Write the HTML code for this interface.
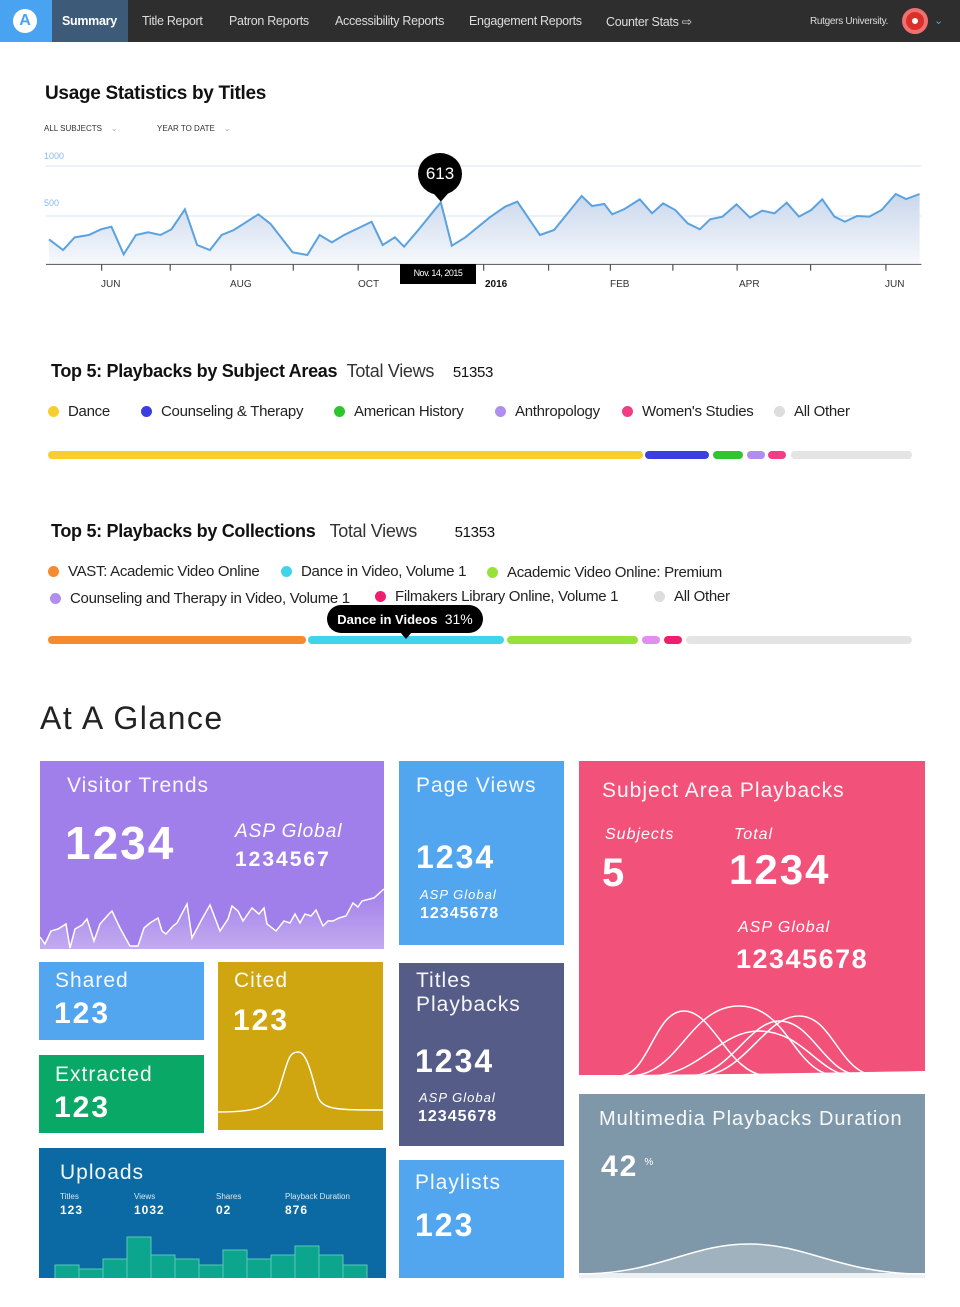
<!DOCTYPE html>
<html><head><meta charset="utf-8"><style>
*{margin:0;padding:0;box-sizing:border-box}
body{width:960px;height:1307px;background:#fff;font-family:"Liberation Sans",sans-serif;position:relative;overflow:hidden;color:#111}
.a{position:absolute;white-space:nowrap}
.nav{position:absolute;left:0;top:0;width:960px;height:42px;background:#2e2e2e}
.nav span{position:absolute;top:14px;font-size:12.5px;color:#ddd;letter-spacing:-.3px}
.dot{display:inline-block;width:11px;height:11px;border-radius:50%;margin-right:9px;vertical-align:-1px}
.leg{font-size:15px;color:#222;letter-spacing:-.3px}
.seg{position:absolute;height:8px;border-radius:4px}
.tile{position:absolute;color:#fff;overflow:hidden}
.tile .t{position:absolute;font-size:21px;font-weight:300;letter-spacing:1px;opacity:.95}
.big{position:absolute;font-weight:bold;letter-spacing:2px}
.it{position:absolute;font-style:italic;font-size:16px;letter-spacing:1px}
.tk{position:absolute;top:279px;font-size:10px;color:#333}
</style></head><body>
<div class="nav">
<div class="a" style="left:0;top:0;width:52px;height:42px;background:#4aa3f0"></div>
<div class="a" style="left:13px;top:9px;width:24px;height:24px;border-radius:50%;background:#fff;color:#4aa3f0;font-weight:bold;font-size:16px;text-align:center;line-height:24px">A</div>
<div class="a" style="left:52px;top:0;width:76px;height:42px;background:#3d5a78"></div>
<span style="left:62px;color:#fff;font-weight:bold">Summary</span>
<span style="left:142px">Title Report</span>
<span style="left:229px">Patron Reports</span>
<span style="left:335px">Accessibility Reports</span>
<span style="left:469px">Engagement Reports</span>
<span style="left:606px">Counter Stats ⇨</span>
<span style="left:810px;font-size:10px;top:16px">Rutgers University.</span>
<div class="a" style="left:902px;top:8px;width:26px;height:26px;border-radius:50%;background:#d9302a;border:4px solid #f07070"></div>
<div class="a" style="left:910px;top:16px;width:10px;height:10px;border-radius:50%;background:#fff;border:2px solid #d9302a"></div>
<span style="left:934px;color:#4aa3f0;font-size:11px">⌄</span>
</div>

<div class="a" style="left:45px;top:83px;font-size:19px;font-weight:bold;letter-spacing:-.3px">Usage Statistics by Titles</div>
<div class="a" style="left:44px;top:124px;font-size:8px;color:#333">ALL SUBJECTS &nbsp; &nbsp;<span style="color:#aaa">⌄</span></div>
<div class="a" style="left:157px;top:124px;font-size:8px;color:#333">YEAR TO DATE &nbsp; &nbsp;<span style="color:#aaa">⌄</span></div>
<div class="a" style="left:44px;top:151px;font-size:9px;color:#8ab8e8">1000</div>
<div class="a" style="left:44px;top:198px;font-size:9px;color:#8ab8e8">500</div>

<svg class="a" style="left:0;top:0" width="960" height="300" viewBox="0 0 1568 900" preserveAspectRatio="none">
<defs><linearGradient id="g" x1="0" y1="0" x2="0" y2="1"><stop offset="0" stop-color="#c9d7ec"/><stop offset="1" stop-color="#f6f8fc"/></linearGradient></defs>
<line x1="75" y1="498" x2="1505" y2="498" stroke="#d4e3f3" stroke-width="3"/>
<line x1="75" y1="648" x2="1505" y2="648" stroke="#d4e3f3" stroke-width="3"/>
<polygon fill="url(#g)" points="80,790 80,718 103,750 122,712 145,705 165,688 182,680 202,763 222,705 242,697 262,705 280,688 302,628 322,735 343,750 362,705 382,690 422,643 442,672 478,757 502,765 522,705 542,727 562,705 607,665 625,735 645,712 660,740 680,697 720,607 738,737 760,712 800,652 825,620 845,605 882,705 905,690 950,588 967,618 987,612 1000,643 1020,627 1045,598 1065,640 1083,610 1103,630 1123,670 1143,688 1160,658 1180,650 1203,613 1225,653 1245,632 1265,640 1285,608 1305,650 1325,630 1343,598 1363,650 1380,665 1400,648 1420,650 1440,630 1463,582 1480,597 1502,582 1502,790"/>
<polyline fill="none" stroke="#5aa2e0" stroke-width="5" vector-effect="non-scaling-stroke" style="stroke-width:2" points="80,718 103,750 122,712 145,705 165,688 182,680 202,763 222,705 242,697 262,705 280,688 302,628 322,735 343,750 362,705 382,690 422,643 442,672 478,757 502,765 522,705 542,727 562,705 607,665 625,735 645,712 660,740 680,697 720,607 738,737 760,712 800,652 825,620 845,605 882,705 905,690 950,588 967,618 987,612 1000,643 1020,627 1045,598 1065,640 1083,610 1103,630 1123,670 1143,688 1160,658 1180,650 1203,613 1225,653 1245,632 1265,640 1285,608 1305,650 1325,630 1343,598 1363,650 1380,665 1400,648 1420,650 1440,630 1463,582 1480,597 1502,582"/>
<line x1="75" y1="793" x2="1505" y2="793" stroke="#555" stroke-width="3"/>
<g stroke="#555" stroke-width="2"><line x1="166" y1="793" x2="166" y2="812"/><line x1="278" y1="793" x2="278" y2="812"/><line x1="377" y1="793" x2="377" y2="812"/><line x1="479" y1="793" x2="479" y2="812"/><line x1="585" y1="793" x2="585" y2="812"/><line x1="790" y1="793" x2="790" y2="812"/><line x1="896" y1="793" x2="896" y2="812"/><line x1="997" y1="793" x2="997" y2="812"/><line x1="1099" y1="793" x2="1099" y2="812"/><line x1="1204" y1="793" x2="1204" y2="812"/><line x1="1324" y1="793" x2="1324" y2="812"/><line x1="1447" y1="793" x2="1447" y2="812"/></g>
<polygon points="708,580 732,580 720,605" fill="#000"/>
</svg>
<div class="a" style="left:418px;top:153px;width:44px;height:42px;border-radius:50%;background:#000;color:#fff;font-size:17px;text-align:center;line-height:42px">613</div>
<div class="a" style="left:400px;top:264px;width:76px;height:20px;background:#000;color:#fff;font-size:9px;text-align:center;line-height:19px;letter-spacing:-.5px">Nov. 14, 2015</div>
<div class="tk" style="left:101px">JUN</div>
<div class="tk" style="left:230px">AUG</div>
<div class="tk" style="left:358px">OCT</div>
<div class="tk" style="left:485px;color:#111;font-weight:bold">2016</div>
<div class="tk" style="left:610px">FEB</div>
<div class="tk" style="left:739px">APR</div>
<div class="tk" style="left:885px">JUN</div>

<div class="a" style="left:51px;top:361px;font-size:18px;letter-spacing:-.3px"><b>Top 5: Playbacks by Subject Areas</b> &nbsp;<span style="font-weight:300;color:#333">Total Views</span> &nbsp; &nbsp;<span style="font-size:15px">51353</span></div>
<div class="a leg" style="left:48px;top:403px"><span class="dot" style="background:#f7ce2d"></span>Dance</div>
<div class="a leg" style="left:141px;top:403px"><span class="dot" style="background:#3b3fe0"></span>Counseling &amp; Therapy</div>
<div class="a leg" style="left:334px;top:403px"><span class="dot" style="background:#2ec52e"></span>American History</div>
<div class="a leg" style="left:495px;top:403px"><span class="dot" style="background:#b08ef0"></span>Anthropology</div>
<div class="a leg" style="left:622px;top:403px"><span class="dot" style="background:#ef3e86"></span>Women's Studies</div>
<div class="a leg" style="left:774px;top:403px"><span class="dot" style="background:#ddd"></span>All Other</div>
<div class="seg" style="left:48px;top:451px;width:595px;background:#f7ce2d"></div>
<div class="seg" style="left:645px;top:451px;width:64px;background:#3b3fe0"></div>
<div class="seg" style="left:713px;top:451px;width:30px;background:#2ec52e"></div>
<div class="seg" style="left:747px;top:451px;width:18px;background:#b08ef0"></div>
<div class="seg" style="left:768px;top:451px;width:18px;background:#ef3e86"></div>
<div class="seg" style="left:791px;top:451px;width:121px;background:#e4e4e4"></div>

<div class="a" style="left:51px;top:521px;font-size:18px;letter-spacing:-.3px"><b>Top 5: Playbacks by Collections</b> &nbsp;&nbsp;<span style="font-weight:300;color:#333">Total Views</span> &nbsp; &nbsp; &nbsp; &nbsp;<span style="font-size:15px">51353</span></div>
<div class="a leg" style="left:48px;top:563px"><span class="dot" style="background:#f58a2e"></span>VAST: Academic Video Online</div>
<div class="a leg" style="left:281px;top:563px"><span class="dot" style="background:#3fd4ea"></span>Dance in Video, Volume 1</div>
<div class="a leg" style="left:487px;top:564px"><span class="dot" style="background:#97e23a"></span>Academic Video Online: Premium</div>
<div class="a leg" style="left:50px;top:590px"><span class="dot" style="background:#b08ef0"></span>Counseling and Therapy in Video, Volume 1</div>
<div class="a leg" style="left:375px;top:588px"><span class="dot" style="background:#ef1e6e"></span>Filmakers Library Online, Volume 1</div>
<div class="a leg" style="left:654px;top:588px"><span class="dot" style="background:#ddd"></span>All Other</div>
<div class="seg" style="left:48px;top:636px;width:258px;background:#f58a2e"></div>
<div class="seg" style="left:308px;top:636px;width:196px;background:#3fd4ea"></div>
<div class="seg" style="left:507px;top:636px;width:131px;background:#97e23a"></div>
<div class="seg" style="left:642px;top:636px;width:18px;background:#e08ef0"></div>
<div class="seg" style="left:664px;top:636px;width:18px;background:#ef1e6e"></div>
<div class="seg" style="left:686px;top:636px;width:226px;background:#e4e4e4"></div>
<div class="a" style="left:327px;top:605px;width:156px;height:28px;border-radius:14px;background:#000;color:#fff;font-size:13px;line-height:28px;text-align:center"><b>Dance in Videos</b> &nbsp;<span style="font-weight:300;font-size:14px">31%</span></div>
<div class="a" style="left:400px;top:632px;width:0;height:0;border-left:6px solid transparent;border-right:6px solid transparent;border-top:7px solid #000"></div>

<div class="a" style="left:40px;top:700px;font-size:32px;font-weight:300;letter-spacing:1.5px;color:#222">At A Glance</div>

<div class="tile" style="left:40px;top:761px;width:344px;height:188px;background:#a17fea">
<div class="t" style="left:27px;top:13px">Visitor Trends</div>
<div class="big" style="left:25px;top:55px;font-size:46px">1234</div>
<div class="it" style="left:195px;top:60px;font-size:19px">ASP Global</div>
<div class="big" style="left:195px;top:87px;font-size:21px">1234567</div>
<svg class="a" style="left:0;top:0" width="344" height="188">
<defs><linearGradient id="v" x1="0" y1="0" x2="0" y2="1"><stop offset="0" stop-color="#a17fea"/><stop offset="1" stop-color="#c3aaf0"/></linearGradient></defs>
<polygon fill="url(#v)" points="0,188 0,176 5,183 11,170 18,168 26,163 30,187 35,168 42,164 47,158 54,180 60,163 68,154 72,150 80,167 90,185 98,185 104,167 110,162 118,157 122,170 126,173 133,165 137,162 147,143 152,177 162,158 170,144 180,170 188,158 192,145 198,150 203,160 212,147 219,153 224,147 227,163 236,170 244,160 250,162 255,153 260,162 265,153 271,155 276,149 283,165 288,160 293,160 299,157 306,155 313,142 318,146 322,140 344,128 344,188"/>
<polyline fill="none" stroke="#fff" stroke-width="1.5" points="0,176 5,183 11,170 18,168 26,163 30,187 35,168 42,164 47,158 54,180 60,163 68,154 72,150 80,167 90,185 98,185 104,167 110,162 118,157 122,170 126,173 133,165 137,162 147,143 152,177 162,158 170,144 180,170 188,158 192,145 198,150 203,160 212,147 219,153 224,147 227,163 236,170 244,160 250,162 255,153 260,162 265,153 271,155 276,149 283,165 288,160 293,160 299,157 306,155 313,142 318,146 322,140 334,137 344,128"/>
</svg>
</div>

<div class="tile" style="left:399px;top:761px;width:165px;height:184px;background:#52a6f0">
<div class="t" style="left:17px;top:13px">Page Views</div>
<div class="big" style="left:17px;top:78px;font-size:32px">1234</div>
<div class="it" style="left:21px;top:126px;font-size:13px">ASP Global</div>
<div class="big" style="left:21px;top:144px;font-size:16px;letter-spacing:1px">12345678</div>
</div>

<div class="tile" style="left:579px;top:761px;width:346px;height:317px;background:#f2527a">
<div class="t" style="left:23px;top:18px">Subject Area Playbacks</div>
<div class="it" style="left:26px;top:65px">Subjects</div>
<div class="it" style="left:155px;top:65px">Total</div>
<div class="big" style="left:23px;top:90px;font-size:40px">5</div>
<div class="big" style="left:150px;top:85px;font-size:42px">1234</div>
<div class="it" style="left:159px;top:158px">ASP Global</div>
<div class="big" style="left:157px;top:183px;font-size:27px;letter-spacing:1.5px">12345678</div>
<svg class="a" style="left:0;top:230px" width="346" height="87">
<g fill="none" stroke="#fff" stroke-width="1.5">
<path d="M40,85 C70,85 75,20 105,20 C135,20 150,85 190,85"/>
<path d="M50,85 C100,85 110,15 160,15 C210,15 215,85 260,85"/>
<path d="M110,85 C150,85 170,30 200,30 C235,30 245,85 285,85"/>
<path d="M70,85 C120,85 140,40 180,40 C225,40 240,85 275,85"/>
<path d="M120,85 C165,85 185,25 220,25 C255,25 260,85 300,85"/>
</g>
<path d="M0,87 L0,84 C100,84 240,82 346,80 L346,87Z" fill="#fff"/>
</svg>
</div>

<div class="tile" style="left:39px;top:962px;width:165px;height:78px;background:#52a6f0">
<div class="t" style="left:16px;top:7px">Shared</div>
<div class="big" style="left:15px;top:35px;font-size:30px">123</div>
</div>
<div class="tile" style="left:39px;top:1055px;width:165px;height:78px;background:#0aa866">
<div class="t" style="left:16px;top:8px">Extracted</div>
<div class="big" style="left:15px;top:36px;font-size:30px">123</div>
</div>
<div class="tile" style="left:218px;top:962px;width:165px;height:168px;background:#cfa510">
<div class="t" style="left:16px;top:7px">Cited</div>
<div class="big" style="left:15px;top:42px;font-size:30px">123</div>
<svg class="a" style="left:0;top:0" width="165" height="168"><path d="M0,150 C40,150 50,145 60,130 C70,100 70,90 80,90 C90,90 95,120 100,135 C105,148 120,148 165,148" fill="none" stroke="#fff" stroke-width="1.5"/></svg>
</div>

<div class="tile" style="left:399px;top:963px;width:165px;height:183px;background:#545c87">
<div class="t" style="left:17px;top:6px;line-height:24px">Titles<br>Playbacks</div>
<div class="big" style="left:16px;top:80px;font-size:32px">1234</div>
<div class="it" style="left:20px;top:127px;font-size:13px">ASP Global</div>
<div class="big" style="left:19px;top:145px;font-size:16px;letter-spacing:1px">12345678</div>
</div>

<div class="tile" style="left:579px;top:1094px;width:346px;height:184px;background:#7f98a9">
<div class="t" style="left:20px;top:14px;font-size:20px">Multimedia Playbacks Duration</div>
<div class="big" style="left:22px;top:56px;font-size:30px">42<sup style="font-size:10px;font-weight:normal;margin-left:6px">%</sup></div>
<svg class="a" style="left:0;top:130px" width="346" height="54">
<path d="M0,50 C80,50 110,20 170,20 C230,20 260,50 346,50 L346,54 L0,54Z" fill="rgba(255,255,255,.25)"/>
<path d="M0,50 C80,50 110,20 170,20 C230,20 260,50 346,50" fill="none" stroke="#fff" stroke-width="1.5"/>
<rect x="0" y="49" width="346" height="5" fill="#fff" opacity=".8"/>
</svg>
</div>

<div class="tile" style="left:39px;top:1148px;width:347px;height:130px;background:#0b69a3">
<div class="t" style="left:21px;top:13px">Uploads</div>
<div class="a" style="left:21px;top:44px;font-size:8px;opacity:.85">Titles</div>
<div class="a" style="left:95px;top:44px;font-size:8px;opacity:.85">Views</div>
<div class="a" style="left:177px;top:44px;font-size:8px;opacity:.85">Shares</div>
<div class="a" style="left:246px;top:44px;font-size:8px;opacity:.85">Playback Duration</div>
<div class="big" style="left:21px;top:55px;font-size:12px;letter-spacing:1px">123</div>
<div class="big" style="left:95px;top:55px;font-size:12px;letter-spacing:1px">1032</div>
<div class="big" style="left:177px;top:55px;font-size:12px;letter-spacing:1px">02</div>
<div class="big" style="left:246px;top:55px;font-size:12px;letter-spacing:1px">876</div>
<svg class="a" style="left:0;top:0" width="347" height="130"><g fill="#0ca58e" stroke="#5ac8b5" stroke-width="1">
<rect x="16" y="117" width="24" height="14"/><rect x="40" y="121" width="24" height="10"/><rect x="64" y="111" width="24" height="20"/><rect x="88" y="89" width="24" height="42"/><rect x="112" y="107" width="24" height="24"/><rect x="136" y="111" width="24" height="20"/><rect x="160" y="117" width="24" height="14"/><rect x="184" y="102" width="24" height="29"/><rect x="208" y="111" width="24" height="20"/><rect x="232" y="107" width="24" height="24"/><rect x="256" y="98" width="24" height="33"/><rect x="280" y="107" width="24" height="24"/><rect x="304" y="117" width="24" height="14"/>
</g></svg>
</div>

<div class="tile" style="left:399px;top:1160px;width:165px;height:118px;background:#52a6f0">
<div class="t" style="left:16px;top:11px">Playlists</div>
<div class="big" style="left:16px;top:47px;font-size:32px">123</div>
</div>
</body></html>
